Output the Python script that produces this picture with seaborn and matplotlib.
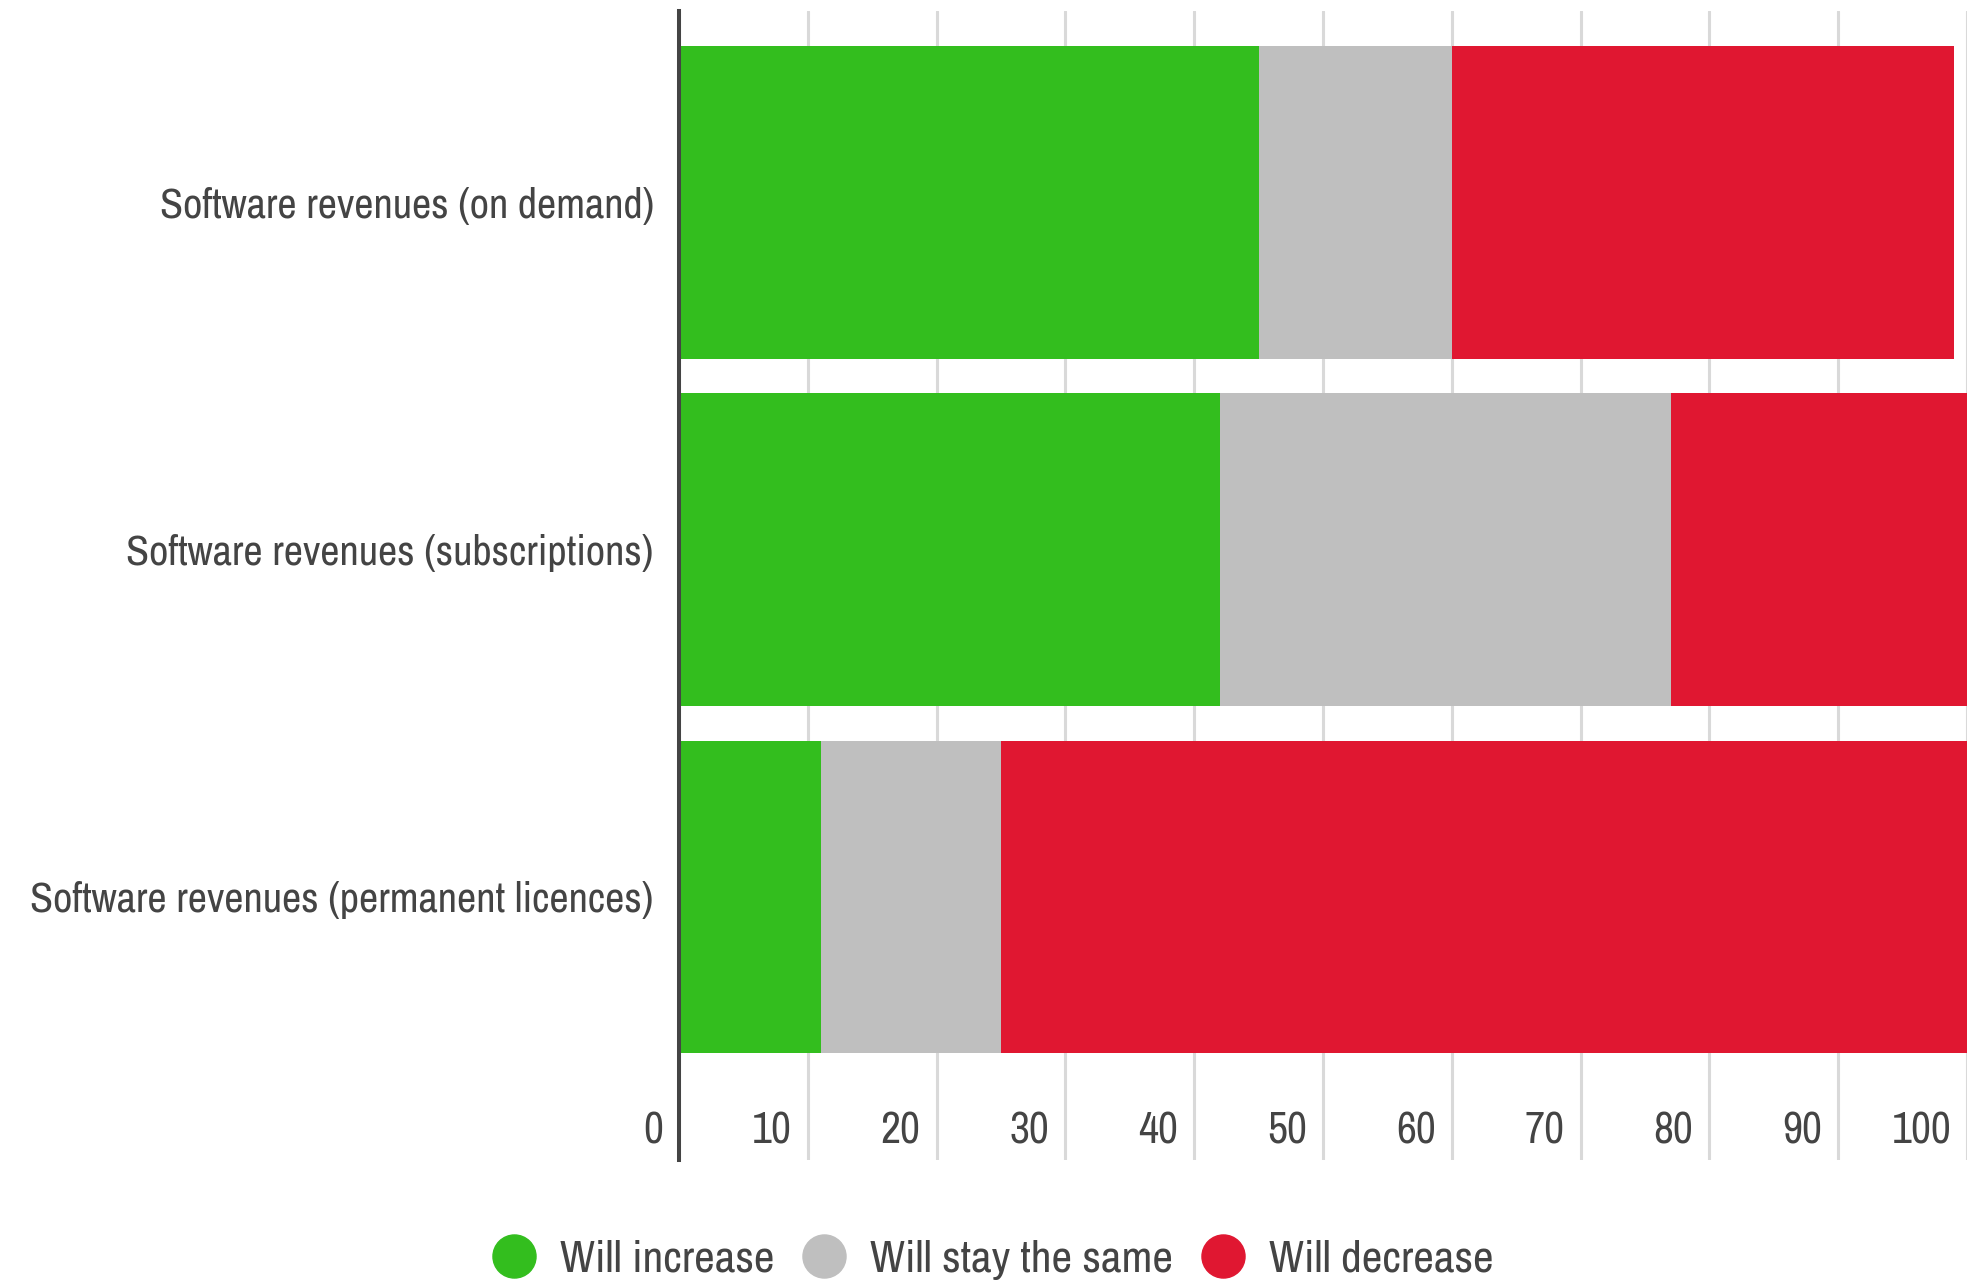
import matplotlib
matplotlib.use("Agg")
import matplotlib.pyplot as plt
import matplotlib.transforms as mtransforms
from matplotlib import font_manager as fm
from matplotlib.lines import Line2D
import seaborn as sns
import pandas as pd

# Survey: expected change in software revenues (% of respondents)
categories = [
    "Software revenues (on demand)",
    "Software revenues (subscriptions)",
    "Software revenues (permanent licences)",
]
will_increase = [45, 42, 11]
will_stay_same = [15, 35, 14]
will_decrease = [39, 23, 75]

series_names = ["Will increase", "Will stay the same", "Will decrease"]
series_colors = ["#33be1e", "#bfbfbf", "#e01731"]
x_ticks = [0, 10, 20, 30, 40, 50, 60, 70, 80, 90, 100]

TEXT = "#444444"
GRID = "#d9d9d9"

sns.set_theme(style="white")


def pick_narrow_font():
    """Return (FontProperties, is_narrow) for a condensed sans face if one is installed."""
    def regular(f):
        return f.style == "normal" and str(f.weight) in ("400", "normal", "regular", "book")
    cands = []
    for f in fm.fontManager.ttflist:
        if not regular(f):
            continue
        tag = (f.name + " " + f.fname).lower()
        narrow = ("narrow" in tag or "condensed" in tag
                  or f.stretch in ("condensed", "semi-condensed", "extra-condensed"))
        if narrow and "mono" not in tag and "serif" not in f.name.lower():
            rank = 0 if "narrow" in tag else 1 if "roboto" in tag else 2
            cands.append((rank, f.fname))
    if cands:
        cands.sort()
        return fm.FontProperties(fname=cands[0][1]), True
    return fm.FontProperties(family=["Roboto", "DejaVu Sans"]), False


base_fp, is_narrow = pick_narrow_font()
scale = 1.0 if is_narrow else 0.88
plt.rcParams["font.family"] = ["Roboto", "DejaVu Sans"]


def fp(size):
    p = base_fp.copy()
    p.set_size(size * scale)
    return p


df = pd.DataFrame({
    "category": categories,
    "increase": will_increase,
    "same": will_stay_same,
    "decrease": will_decrease,
})
df["cum_same"] = df["increase"] + df["same"]
df["cum_decrease"] = df["cum_same"] + df["decrease"]

fig = plt.figure(figsize=(19.85, 12.87), dpi=100)
ax = fig.add_axes([0.342, 0.0987, 0.649, 0.8928])

# vertical gridlines behind the bars
for t in x_ticks:
    ax.axvline(t, color=GRID, lw=2.2, zorder=0)

# stacked bars: draw cumulative totals from the outermost segment inward
for col, color in zip(["cum_decrease", "cum_same", "increase"], series_colors[::-1]):
    sns.barplot(data=df, y="category", x=col, orient="h", color=color,
                width=0.9, saturation=1, ax=ax, zorder=2, linewidth=0)

ax.set_xlim(0, 100)
ax.set_ylim(2.757, -0.5505)
ax.set_xlabel("")
ax.set_ylabel("")

for side in ["top", "right", "bottom"]:
    ax.spines[side].set_visible(False)
ax.spines["left"].set_color(TEXT)
ax.spines["left"].set_linewidth(2.9)
ax.spines["left"].set_zorder(5)

ax.set_yticks(range(len(categories)))
ax.set_yticklabels(categories, fontproperties=fp(30.4), color=TEXT)
ax.tick_params(axis="y", length=0, pad=18)

ax.set_xticks(x_ticks)
ax.set_xticklabels([str(t) for t in x_ticks], fontproperties=fp(31.5), color=TEXT)
ax.tick_params(axis="x", length=0, pad=-35)
offset = mtransforms.ScaledTranslation(-16 / 100, 0, fig.dpi_scale_trans)
for lbl in ax.get_xticklabels():
    lbl.set_horizontalalignment("right")
    lbl.set_transform(lbl.get_transform() + offset)
    lbl.set_zorder(6)

handles = [Line2D([0], [0], marker="o", linestyle="", markersize=31,
                  markerfacecolor=c, markeredgecolor=c) for c in series_colors]
fig.legend(handles, series_names, loc="center", bbox_to_anchor=(0.5, 0.021),
           ncol=3, frameon=False, prop=fp(32.5), labelcolor=TEXT,
           handlelength=1.0, handletextpad=0.52, columnspacing=0.6)

fig.savefig("out.png", dpi=100, facecolor="white")
